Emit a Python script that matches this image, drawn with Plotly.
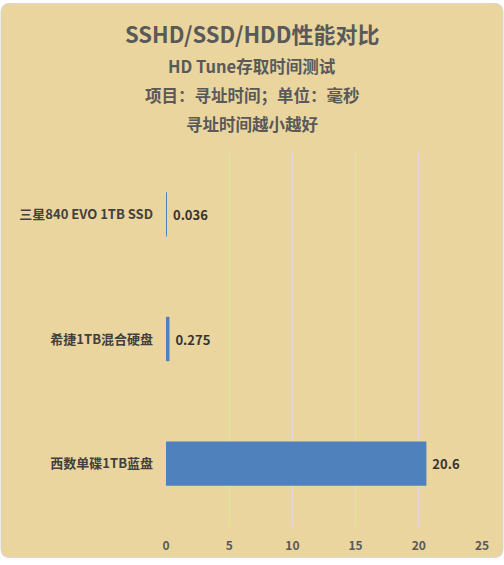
import plotly.graph_objects as go

CATEGORIES = ["三星840 EVO 1TB SSD", "希捷1TB混合硬盘", "西数单碟1TB蓝盘"]
SEEK_MS = [0.036, 0.275, 20.6]
X_TICKS = [0, 5, 10, 15, 20, 25]

TITLE = "SSHD/SSD/HDD性能对比"
SUBTITLES = ["HD Tune存取时间测试", "项目：寻址时间；单位：毫秒", "寻址时间越小越好"]

W, H = 504, 565
M_L, M_R, M_T, M_B = 166, 22, 152, 33
FONT = "Noto Sans CJK SC"
BG = "#EAD59E"


def px_x(px):
    return (px - M_L) / (W - M_L - M_R)


def px_y(py):
    return (H - M_B - py) / (H - M_T - M_B)


def rounded_rect(x0, y0, x1, y1, r):
    # path in paper coords built from pixel positions
    pts = [
        f"M {px_x(x0 + r)} {px_y(y0)}",
        f"L {px_x(x1 - r)} {px_y(y0)}",
        f"Q {px_x(x1)} {px_y(y0)} {px_x(x1)} {px_y(y0 + r)}",
        f"L {px_x(x1)} {px_y(y1 - r)}",
        f"Q {px_x(x1)} {px_y(y1)} {px_x(x1 - r)} {px_y(y1)}",
        f"L {px_x(x0 + r)} {px_y(y1)}",
        f"Q {px_x(x0)} {px_y(y1)} {px_x(x0)} {px_y(y1 - r)}",
        f"L {px_x(x0)} {px_y(y0 + r)}",
        f"Q {px_x(x0)} {px_y(y0)} {px_x(x0 + r)} {px_y(y0)}",
        "Z",
    ]
    return " ".join(pts)


fig = go.Figure(
    go.Bar(
        x=SEEK_MS,
        y=CATEGORIES,
        orientation="h",
        marker=dict(color="#4F81BD", line=dict(width=0)),
        text=[f" {v}" for v in SEEK_MS],
        textposition="outside",
        textfont=dict(family=FONT, size=13, color="#333333", weight="bold"),
        cliponaxis=False,
        width=0.356,
    )
)

fig.add_shape(
    type="path",
    xref="paper",
    yref="paper",
    path=rounded_rect(1, 1, 503, 564, 9),
    fillcolor=BG,
    line=dict(color="#D6D6D6", width=1),
    layer="below",
)

fig.add_annotation(
    text=f"<b>{TITLE}</b>", xref="paper", yref="paper",
    x=px_x(252), y=px_y(31), xanchor="center", yanchor="middle",
    showarrow=False,
    font=dict(family=FONT, size=22, color="#595959"),
)
for i, line in enumerate(SUBTITLES):
    fig.add_annotation(
        text=f"<b>{line}</b>", xref="paper", yref="paper",
        x=px_x(252), y=px_y(65 + i * 29.5), xanchor="center", yanchor="middle",
        showarrow=False,
        font=dict(family=FONT, size=16.5, color="#595959"),
    )

fig.update_layout(
    width=W,
    height=H,
    margin=dict(l=M_L, r=M_R, t=M_T, b=M_B),
    paper_bgcolor="white",
    plot_bgcolor="rgba(0,0,0,0)",
    showlegend=False,
    xaxis=dict(
        range=[0, 25],
        tickvals=X_TICKS,
        showgrid=True,
        gridcolor="#DCDCDC",
        gridwidth=1,
        zeroline=False,
        showline=False,
        ticks="",
        tickfont=dict(family=FONT, size=12, color="#595959", weight="bold"),
        ticklabelstandoff=11,
    ),
    yaxis=dict(
        autorange="reversed",
        showgrid=False,
        zeroline=False,
        showline=False,
        ticks="",
        ticklabelstandoff=12,
        tickfont=dict(family=FONT, size=13, color="#404040", weight="bold"),
    ),
)

fig.write_html(
    "out.html",
    config={"displayModeBar": False},
    post_script="document.body.style.margin='0';",
)
